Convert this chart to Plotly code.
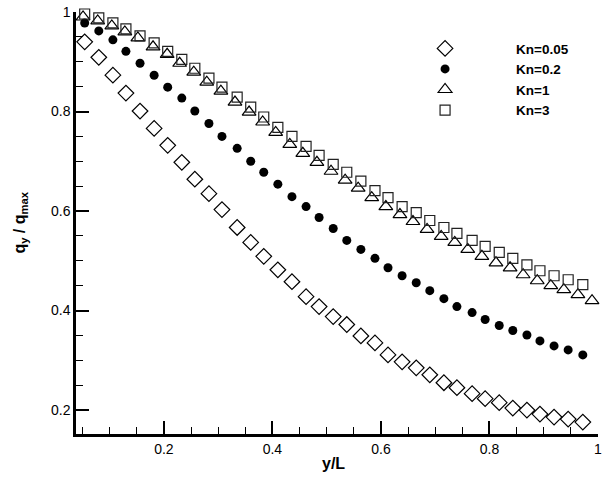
import plotly.graph_objects as go

# x positions (y/L)
x_main = [0.054, 0.080, 0.106, 0.130, 0.156, 0.182, 0.207, 0.233, 0.257, 0.283,
          0.307, 0.335, 0.360, 0.384, 0.410, 0.436, 0.462, 0.486, 0.512, 0.537,
          0.563, 0.589, 0.613, 0.639, 0.665, 0.690, 0.716, 0.740, 0.768, 0.792,
          0.818, 0.843, 0.869, 0.893, 0.919, 0.945, 0.972]
x_tri = [0.051, 0.078, 0.104, 0.128, 0.152, 0.180, 0.206, 0.229, 0.255, 0.279,
         0.305, 0.331, 0.357, 0.382, 0.406, 0.432, 0.456, 0.482, 0.508, 0.534,
         0.558, 0.583, 0.609, 0.635, 0.659, 0.685, 0.711, 0.736, 0.760, 0.786,
         0.812, 0.838, 0.862, 0.888, 0.913, 0.937, 0.963, 0.989]

kn005 = [0.940, 0.909, 0.873, 0.837, 0.801, 0.766, 0.732, 0.698, 0.664, 0.635,
         0.603, 0.567, 0.537, 0.509, 0.482, 0.458, 0.428, 0.408, 0.388, 0.372,
         0.349, 0.335, 0.311, 0.297, 0.285, 0.271, 0.255, 0.245, 0.233, 0.223,
         0.215, 0.204, 0.200, 0.192, 0.186, 0.182, 0.176]
kn02 = [0.978, 0.962, 0.944, 0.921, 0.897, 0.873, 0.849, 0.827, 0.801, 0.776,
        0.750, 0.726, 0.700, 0.678, 0.654, 0.629, 0.609, 0.587, 0.565, 0.541,
        0.523, 0.505, 0.486, 0.470, 0.456, 0.440, 0.424, 0.408, 0.396, 0.382,
        0.370, 0.360, 0.351, 0.339, 0.329, 0.321, 0.311]
kn1 = [0.990, 0.982, 0.972, 0.960, 0.948, 0.930, 0.915, 0.897, 0.879, 0.859,
       0.841, 0.819, 0.799, 0.779, 0.758, 0.734, 0.716, 0.698, 0.680, 0.662,
       0.646, 0.627, 0.609, 0.593, 0.579, 0.563, 0.549, 0.537, 0.523, 0.509,
       0.496, 0.486, 0.472, 0.460, 0.450, 0.442, 0.432, 0.420]
kn3 = [0.996, 0.988, 0.978, 0.966, 0.952, 0.938, 0.921, 0.905, 0.887, 0.867,
       0.849, 0.829, 0.809, 0.789, 0.768, 0.750, 0.730, 0.712, 0.694, 0.678,
       0.660, 0.641, 0.627, 0.609, 0.597, 0.581, 0.567, 0.555, 0.541, 0.529,
       0.517, 0.505, 0.492, 0.480, 0.470, 0.462, 0.452]

x_ticks = [0.2, 0.4, 0.6, 0.8, 1.0]
x_ticklabels = ["0.2", "0.4", "0.6", "0.8", "1"]
y_ticks = [0.2, 0.4, 0.6, 0.8, 1.0]
y_ticklabels = ["0.2", "0.4", "0.6", "0.8", "1"]

FONT = "Liberation Sans, Arial, sans-serif"

fig = go.Figure()
fig.add_trace(go.Scatter(x=x_main, y=kn005, mode="markers", name="Kn=0.05",
                         cliponaxis=False,
                         marker=dict(symbol="diamond-open", size=12, color="black",
                                     line=dict(width=1.2, color="black"))))
fig.add_trace(go.Scatter(x=x_main, y=kn02, mode="markers", name="Kn=0.2",
                         cliponaxis=False,
                         marker=dict(symbol="circle", size=9, color="black",
                                     line=dict(width=0))))
fig.add_trace(go.Scatter(x=x_tri, y=kn1, mode="markers", name="Kn=1",
                         cliponaxis=False,
                         marker=dict(symbol="triangle-up-open", size=12, color="black",
                                     line=dict(width=1.2, color="black"))))
fig.add_trace(go.Scatter(x=x_main, y=kn3, mode="markers", name="Kn=3",
                         cliponaxis=False,
                         marker=dict(symbol="square-open", size=10, color="#222",
                                     line=dict(width=1.2, color="#222"))))

axis_common = dict(
    showline=True, linecolor="black", linewidth=2.5, mirror=False,
    showgrid=False, zeroline=False, automargin=False,
    ticks="inside", ticklen=13, tickwidth=2, tickcolor="black",
    ticklabeloverflow="allow",
    tickfont=dict(family=FONT, size=14, color="black"),
    minor=dict(dtick=0.05, ticks="inside", ticklen=7, tickwidth=1.2,
               tickcolor="black", showgrid=False),
)

fig.update_layout(
    width=603, height=478,
    margin=dict(l=76, r=5, t=12, b=44),
    paper_bgcolor="white", plot_bgcolor="white",
    font=dict(family=FONT, color="black"),
    xaxis=dict(range=[0.038, 1.0], tickvals=x_ticks, ticktext=x_ticklabels,
               **axis_common),
    yaxis=dict(range=[0.152, 1.0], tickvals=y_ticks, ticktext=y_ticklabels,
               **axis_common),
    legend=dict(x=0.571, y=0.95, xanchor="left", yanchor="top",
                bgcolor="rgba(0,0,0,0)", itemwidth=132, tracegroupgap=0,
                font=dict(family=FONT, size=13.5, color="black", weight="bold"),
                itemsizing="trace"),
    showlegend=True,
    annotations=[
        dict(text="<b>y/L</b>", xref="paper", yref="paper", x=0.494, y=-0.07,
             xanchor="center", yanchor="middle", showarrow=False,
             font=dict(family=FONT, size=16, color="black")),
        dict(text="<b>q<sub>y</sub> / q<sub>max</sub></b>", xref="paper",
             yref="paper", x=-0.108, y=0.5, xanchor="center", yanchor="middle",
             textangle=-90, showarrow=False,
             font=dict(family=FONT, size=16, color="black")),
    ],
)

fig.write_html("out.html",
               config={"displayModeBar": False},
               post_script="document.body.style.margin='0';document.body.style.padding='0';")
